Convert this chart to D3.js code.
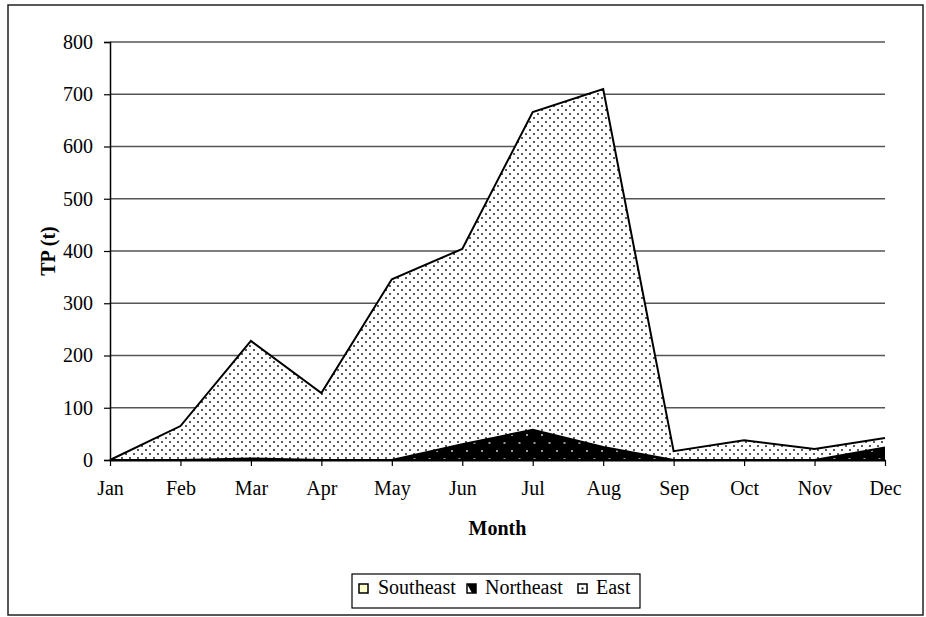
<!DOCTYPE html>
<html>
<head>
<meta charset="utf-8">
<script src="https://cdn.jsdelivr.net/npm/d3@7/dist/d3.min.js"></script>
<style>
  html, body { margin: 0; padding: 0; background: #fff; }
  svg { display: block; }
</style>
</head>
<body>
<svg id="chart" width="926" height="617"></svg>
<script>
// Monthly total phosphorus load (t) by region
const months = ["Jan", "Feb", "Mar", "Apr", "May", "Jun", "Jul", "Aug", "Sep", "Oct", "Nov", "Dec"];
const southeast = [0, 0, 0, 0, 0, 0, 0, 0, 0, 0, 0, 0];
const northeast = [0, 0, 3, 0, 0, 30, 58, 25, 0, 0, 0, 24];
const east = [0, 65, 225, 128, 346, 374, 608, 685, 17, 38, 21, 18];
const yTicks = [0, 100, 200, 300, 400, 500, 600, 700, 800];
const seriesNames = ["Southeast", "Northeast", "East"];

const FONT = "'Liberation Serif'";
const svg = d3.select("#chart");
const W = 926, H = 617;
const margin = { left: 110, right: 41, top: 42, bottom: 157 };

const x = d3.scalePoint().domain(months).range([margin.left, W - margin.right]);
const y = d3.scaleLinear().domain([0, 800]).range([H - margin.bottom, margin.top]);

// Fill patterns
const defs = svg.append("defs");
const pEast = defs.append("pattern").attr("id", "pat-east")
  .attr("patternUnits", "userSpaceOnUse").attr("width", 8).attr("height", 8);
pEast.append("rect").attr("width", 8).attr("height", 8).attr("fill", "#fff");
pEast.append("rect").attr("x", 1).attr("y", 1).attr("width", 2).attr("height", 2).attr("fill", "#5a5a5a");
pEast.append("rect").attr("x", 5).attr("y", 5).attr("width", 2).attr("height", 2).attr("fill", "#5a5a5a");

const pNE = defs.append("pattern").attr("id", "pat-ne")
  .attr("patternUnits", "userSpaceOnUse").attr("width", 15).attr("height", 16);
pNE.append("rect").attr("width", 15).attr("height", 16).attr("fill", "#000");
pNE.append("rect").attr("x", 1).attr("y", 2).attr("width", 2).attr("height", 2).attr("fill", "#999");
pNE.append("rect").attr("x", 8.5).attr("y", 10).attr("width", 2).attr("height", 2).attr("fill", "#999");

const fills = { Southeast: "#ffffcc", Northeast: "url(#pat-ne)", East: "url(#pat-east)" };

// Outer frame
svg.append("rect").attr("x", 8).attr("y", 5).attr("width", 915).attr("height", 610)
  .attr("fill", "none").attr("stroke", "#222").attr("stroke-width", 1.5);

// Gridlines
svg.append("g").selectAll("line").data(yTicks.filter(d => d > 0)).join("line")
  .attr("x1", margin.left).attr("x2", W - margin.right)
  .attr("y1", d => y(d)).attr("y2", d => y(d))
  .attr("stroke", "#555").attr("stroke-width", 1.3);

// Stacked areas
const table = months.map((m, i) => ({ month: m, Southeast: southeast[i], Northeast: northeast[i], East: east[i] }));
const stack = d3.stack().keys(seriesNames)(table);
const area = d3.area().x(d => x(d.data.month)).y0(d => y(d[0])).y1(d => y(d[1]));
const line = d3.line().x(d => x(d.data.month)).y(d => y(d[1]));

svg.append("g").selectAll("path.area").data(stack).join("path")
  .attr("class", "area")
  .attr("d", area)
  .attr("fill", d => fills[d.key])
  .attr("stroke", "none");
svg.append("g").selectAll("path.edge").data(stack).join("path")
  .attr("class", "edge")
  .attr("d", line)
  .attr("fill", "none")
  .attr("stroke", "#000")
  .attr("stroke-width", 2);

// Axes
const yAxis = d3.axisLeft(y).tickValues(yTicks).tickSize(6).tickPadding(11);
const gy = svg.append("g").attr("transform", `translate(${margin.left},0)`).call(yAxis);
gy.select(".domain").attr("stroke", "#000").attr("stroke-width", 1.5);
gy.selectAll(".tick line").attr("stroke", "#000").attr("stroke-width", 1.2);
gy.selectAll(".tick text").attr("font-size", 20).attr("fill", "#000").style("font-family", FONT);

const xAxis = d3.axisBottom(x).tickSize(6).tickPadding(15).tickSizeOuter(0);
const gx = svg.append("g").attr("transform", `translate(0,${y(0)})`).call(xAxis);
gx.select(".domain").attr("stroke", "#000").attr("stroke-width", 2);
gx.selectAll(".tick line").attr("stroke", "#000").attr("stroke-width", 1.2);
gx.selectAll(".tick text").attr("font-size", 20).attr("fill", "#000").style("font-family", FONT);

// Axis titles
svg.append("text").attr("x", (margin.left + W - margin.right) / 2).attr("y", 535)
  .attr("text-anchor", "middle").attr("font-size", 20).attr("font-weight", "bold")
  .style("font-family", FONT).text("Month");
svg.append("text").attr("transform", `translate(55,${(y(0) + y(800)) / 2}) rotate(-90)`)
  .attr("text-anchor", "middle").attr("font-size", 20).attr("font-weight", "bold")
  .style("font-family", FONT).text("TP (t)");

// Legend
const lg = svg.append("g");
lg.append("rect").attr("x", 352).attr("y", 574).attr("width", 288).attr("height", 34)
  .attr("fill", "#fff").attr("stroke", "#000").attr("stroke-width", 1.2);
const legendX = [359, 467, 578];
seriesNames.forEach((name, i) => {
  const g = lg.append("g").attr("transform", `translate(${legendX[i]},584)`);
  g.append("rect").attr("x", 0).attr("y", 0).attr("width", 9).attr("height", 9)
    .attr("fill", name === "Southeast" ? "#ffffcc" : "#fff")
    .attr("stroke", "#000").attr("stroke-width", 1.5);
  if (name === "Northeast") {
    g.append("path").attr("d", "M0,0 L9,0 L9,9 L5,9 Z").attr("fill", "#000");
  } else if (name === "East") {
    g.append("rect").attr("x", 3.5).attr("y", 3.5).attr("width", 2).attr("height", 2).attr("fill", "#000");
  }
  g.append("text").attr("x", i === 0 ? 19 : 18).attr("y", 9.5).attr("font-size", 20).attr("fill", "#000")
    .style("font-family", FONT).text(name);
});
</script>
</body>
</html>
